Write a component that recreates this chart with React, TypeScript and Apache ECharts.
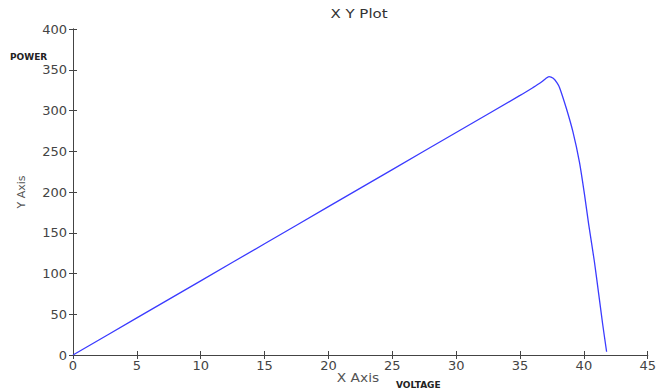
import React, { useEffect, useRef } from "react";
import * as echarts from "echarts";

const voltage = [0, 5, 10, 15, 20, 25, 30, 35, 36, 36.6, 37.0, 37.27, 37.6, 37.9, 38.1, 38.62, 39.14, 39.65, 40.04, 40.38, 40.82, 41.16, 41.47, 41.78];
const power = [0, 45.5, 91, 136.5, 182, 227.5, 273, 318.5, 328, 334, 339, 341.5, 339.5, 334, 328, 303, 274, 237, 198, 160, 115, 75, 38, 4];
const xTicks = [0, 5, 10, 15, 20, 25, 30, 35, 40, 45];
const yTicks = [0, 50, 100, 150, 200, 250, 300, 350, 400];

const FONT = "DejaVu Sans, Arial, Liberation Sans";

export default function App() {
  const ref = useRef<HTMLDivElement>(null);
  useEffect(() => {
    if (!ref.current) return;
    const chart = echarts.init(ref.current, undefined, { renderer: "svg" });
    const data = voltage.map((v, i) => [v, power[i]]);
    const axisLine = { show: true, lineStyle: { color: "#444", width: 1 } };
    const tick = { show: true, inside: true, length: 4, lineStyle: { color: "#444" } };
    const labelStyle = { color: "#444", fontFamily: FONT, fontSize: 13 };
    chart.setOption({
      animation: false,
      backgroundColor: "#fff",
      grid: { left: 73, right: 7, top: 29, bottom: 36 },
      xAxis: [
        {
          type: "value",
          min: xTicks[0],
          max: xTicks[xTicks.length - 1],
          interval: 5,
          position: "bottom",
          axisLine,
          axisTick: tick,
          axisLabel: { ...labelStyle, margin: 4 },
          splitLine: { show: false },
        },
        {
          type: "value",
          min: xTicks[0],
          max: xTicks[xTicks.length - 1],
          interval: 5,
          position: "top",
          axisLine,
          axisTick: tick,
          axisLabel: { show: false },
          splitLine: { show: false },
        },
      ],
      yAxis: [
        {
          type: "value",
          min: yTicks[0],
          max: yTicks[yTicks.length - 1],
          interval: 50,
          position: "left",
          axisLine,
          axisTick: tick,
          axisLabel: { ...labelStyle, margin: 6 },
          splitLine: { show: false },
          name: "Y Axis",
          nameLocation: "middle",
          nameGap: 46,
          nameTextStyle: { color: "#555", fontFamily: FONT, fontSize: 11 },
        },
        {
          type: "value",
          min: yTicks[0],
          max: yTicks[yTicks.length - 1],
          interval: 50,
          position: "right",
          axisLine,
          axisTick: tick,
          axisLabel: { show: false },
          splitLine: { show: false },
        },
      ],
      graphic: [
        {
          type: "text",
          x: 359,
          y: 14,
          scaleX: 1.25,
          style: { text: "X Y Plot", fontFamily: FONT, fontSize: 12, fill: "#333", align: "center", verticalAlign: "middle" },
        },
        {
          type: "text",
          x: 358,
          y: 378,
          scaleX: 1.15,
          style: { text: "X Axis", fontFamily: FONT, fontSize: 12, fill: "#555", align: "center", verticalAlign: "middle" },
        },
        {
          type: "text",
          x: 10,
          y: 57,
          style: { text: "POWER", fontFamily: FONT, fontSize: 9, fontWeight: "bold", fill: "#222", verticalAlign: "middle" },
        },
        {
          type: "text",
          x: 396,
          y: 385,
          style: { text: "VOLTAGE", fontFamily: FONT, fontSize: 9, fontWeight: "bold", fill: "#222", verticalAlign: "middle" },
        },
      ],
      series: [
        {
          type: "line",
          data,
          showSymbol: false,
          smooth: 0.25,
          lineStyle: { color: "#3b3bff", width: 1.3 },
          xAxisIndex: 0,
          yAxisIndex: 0,
        },
      ],
    });
    return () => chart.dispose();
  }, []);
  return <div ref={ref} style={{ width: 659, height: 391, position: "fixed", left: 0, top: 0 }} />;
}
